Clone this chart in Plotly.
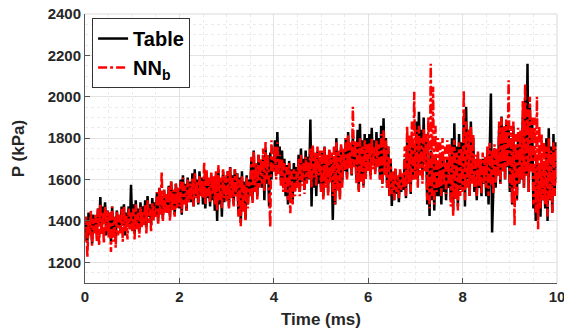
import numpy as np
import plotly.graph_objects as go

# Pressure traces sampled every 0.025 ms (10 samples per 0.25 ms row), values in kPa
DT = 0.025

table_p = [
    1330,1420,1300,1440,1350,1400,1290,1430,1360,1410,
    1350,1460,1380,1515,1340,1470,1400,1490,1330,1450,
    1360,1440,1300,1470,1340,1420,1310,1450,1370,1430,
    1350,1470,1380,1480,1330,1440,1390,1470,1360,1575,
    1380,1480,1340,1500,1390,1460,1350,1490,1400,1470,
    1390,1500,1370,1520,1420,1480,1380,1510,1430,1490,
    1420,1540,1400,1560,1450,1520,1410,1550,1460,1530,
    1440,1570,1420,1590,1470,1550,1430,1580,1480,1560,
    1460,1600,1430,1620,1490,1580,1450,1610,1500,1590,
    1490,1630,1470,1650,1520,1600,1480,1640,1530,1610,
    1480,1610,1460,1630,1510,1590,1470,1620,1500,1600,
    1450,1620,1400,1650,1480,1600,1420,1640,1490,1610,
    1500,1640,1470,1660,1520,1620,1480,1650,1530,1630,
    1440,1610,1390,1640,1460,1590,1410,1620,1480,1600,
    1540,1700,1500,1740,1560,1680,1520,1720,1580,1690,
    1560,1720,1500,1750,1580,1700,1470,1730,1600,1710,
    1640,1790,1620,1830,1660,1760,1600,1740,1560,1700,
    1520,1670,1480,1690,1540,1650,1500,1680,1560,1660,
    1570,1720,1540,1750,1590,1700,1550,1740,1600,1710,
    1600,1890,1470,1760,1560,1720,1520,1740,1580,1700,
    1560,1730,1520,1760,1580,1700,1540,1740,1600,1720,
    1405,1700,1480,1800,1560,1720,1520,1760,1590,1740,
    1640,1800,1610,1830,1660,1770,1620,1810,1670,1780,
    1600,1840,1550,1870,1620,1790,1570,1820,1630,1800,
    1650,1820,1620,1850,1670,1790,1640,1830,1680,1800,
    1600,1860,1580,1896,1640,1800,1560,1760,1520,1700,
    1472,1620,1500,1650,1530,1600,1490,1640,1540,1610,
    1550,1700,1510,1780,1580,1740,1530,1800,1600,1760,
    1640,1880,1600,1928,1660,1840,1620,1900,1680,1820,
    1480,1700,1424,1740,1500,1680,1450,1720,1520,1690,
    1520,1690,1480,1720,1540,1660,1500,1700,1560,1680,
    1500,1800,1450,1872,1530,1760,1470,1820,1550,1780,
    1560,1900,1470,1952,1600,1840,1520,1880,1620,1800,
    1540,1690,1500,1720,1560,1660,1520,1700,1580,1680,
    1520,1720,1480,1760,2016,1344,1500,1740,1560,1700,
    1620,1860,1580,1904,1640,1820,1600,1880,1660,1840,
    1540,1800,1480,1856,1560,1760,1500,1820,1580,1780,
    1600,1900,1560,2000,1620,2160,1540,1960,1640,1880,
    1460,1660,1400,1680,1480,1620,1420,1660,1500,1640,
    1460,1800,1400,1848,1500,1760,1440,1820,1520,1780,
    1600,
]

nnb_p = [
    1300,1420,1224,1400,1330,1450,1280,1410,1340,1430,
    1300,1460,1280,1480,1330,1440,1290,1470,1350,1450,
    1320,1440,1250,1470,1300,1420,1270,1450,1330,1430,
    1340,1460,1300,1470,1350,1430,1310,1460,1360,1440,
    1350,1460,1310,1480,1360,1440,1320,1470,1370,1450,
    1380,1480,1340,1500,1390,1460,1350,1490,1400,1470,
    1420,1540,1380,1560,1430,1640,1400,1550,1440,1530,
    1440,1570,1400,1590,1450,1550,1420,1580,1460,1560,
    1470,1590,1440,1610,1480,1570,1450,1600,1490,1580,
    1500,1610,1470,1630,1510,1590,1480,1620,1520,1600,
    1510,1684,1480,1650,1520,1610,1490,1640,1530,1620,
    1480,1640,1450,1670,1500,1610,1460,1650,1510,1620,
    1490,1640,1460,1660,1510,1610,1470,1650,1520,1630,
    1420,1600,1374,1620,1440,1580,1400,1610,1460,1590,
    1520,1710,1480,1740,1540,1680,1500,1720,1560,1700,
    1580,1750,1540,1781,1600,1720,1560,1369,1790,1650,
    1640,1760,1600,1780,1620,1720,1570,1700,1540,1680,
    1540,1660,1500,1680,1437,1640,1480,1650,1520,1640,
    1560,1700,1520,1720,1570,1680,1530,1710,1580,1690,
    1600,1750,1560,1770,1610,1730,1570,1760,1620,1740,
    1540,1740,1500,1760,1560,1720,1520,1750,1580,1730,
    1520,1760,1480,1780,1540,1740,1500,1770,1560,1750,
    1640,1800,1600,1820,1650,1780,1620,1952,1660,1790,
    1580,1780,1540,1800,1590,1760,1560,1790,1600,1770,
    1640,1780,1600,1800,1650,1760,1620,1790,1660,1770,
    1600,1820,1560,1840,1620,1790,1560,1760,1520,1700,
    1530,1640,1500,1660,1540,1620,1510,1650,1550,1630,
    1560,1760,1520,1860,1580,1820,1540,1880,1600,2024,
    1600,1840,1560,1860,1620,1800,1580,1850,1640,1820,
    1500,1900,1460,2160,1520,2048,1480,1860,1540,1800,
    1560,1780,1520,1800,1570,1760,1530,1790,1580,1770,
    1470,1760,1424,1792,1500,1730,1450,1780,1520,1750,
    1540,2032,1500,1880,1560,1840,1520,1860,1580,1820,
    1560,1720,1520,1740,1570,1700,1530,1730,1580,1710,
    1560,1760,1520,1776,1570,1740,1530,1770,1580,1750,
    1620,1880,1580,1900,1640,1860,1600,1890,1660,2080,
    1560,1860,1480,1880,1376,1820,1500,1850,1580,1840,
    1600,1980,1560,2064,1620,1940,1540,2000,1640,1900,
    1480,1900,1440,2000,1360,1860,1460,1820,1500,1780,
    1480,1760,1420,1800,1500,1740,1440,1780,1520,1760,
    1580,
]

t_table = np.arange(len(table_p)) * DT
t_nnb = np.arange(len(nnb_p)) * DT

x_ticks = [0, 2, 4, 6, 8, 10]
y_ticks = [1200, 1400, 1600, 1800, 2000, 2200, 2400]

FONT = "Liberation Sans, Arial, Helvetica, sans-serif"
TXT = "#262626"

fig = go.Figure()
fig.add_trace(go.Scatter(x=t_table, y=table_p, mode="lines", name="Table",
                         line=dict(color="black", width=2.5)))
fig.add_trace(go.Scatter(x=t_nnb, y=nnb_p, mode="lines", name="NN<sub>b</sub>",
                         line=dict(color="#ff0000", width=2.5, dash="dashdot")))

axis_common = dict(
    showline=True, linecolor="#555555", linewidth=1,
    ticks="inside", ticklen=5, tickcolor="#555555",
    showgrid=True, gridcolor="#e3e3e3", gridwidth=1,
    zeroline=False, ticklabeloverflow="allow", automargin=False,
    tickfont=dict(family=FONT, size=15, color=TXT, weight="bold"),
)

fig.update_xaxes(
    range=[0, 10], tickvals=x_ticks,
    title=dict(text="Time (ms)", font=dict(family=FONT, size=17, color=TXT, weight="bold"),
               standoff=9),
    minor=dict(dtick=0.5, showgrid=True, gridcolor="#ebebeb", griddash="dot", ticks=""),
    **axis_common,
)
fig.update_yaxes(
    range=[1100, 2400], tickvals=y_ticks,
    title=dict(text="P (kPa)", font=dict(family=FONT, size=17, color=TXT, weight="bold"),
               standoff=18),
    minor=dict(dtick=50, showgrid=True, gridcolor="#ebebeb", griddash="dot", ticks=""),
    **axis_common,
)

# light frame on the top and right edges of the axes box
fig.add_shape(type="line", xref="paper", yref="paper", x0=0, x1=1, y0=1, y1=1,
              line=dict(color="#d9d9d9", width=1))
fig.add_shape(type="line", xref="paper", yref="paper", x0=1, x1=1, y0=0, y1=1,
              line=dict(color="#d9d9d9", width=1))

fig.update_layout(
    width=564, height=334,
    margin=dict(l=85, r=7, t=14, b=51),
    paper_bgcolor="white", plot_bgcolor="white",
    font=dict(family=FONT, color=TXT),
    showlegend=True,
    legend=dict(
        x=0.015, y=0.985, xanchor="left", yanchor="top",
        bgcolor="white", bordercolor="#333333", borderwidth=1,
        font=dict(family=FONT, size=20, color="black", weight="bold"),
        itemwidth=30, tracegroupgap=0,
    ),
)

fig.write_html("out.html")
